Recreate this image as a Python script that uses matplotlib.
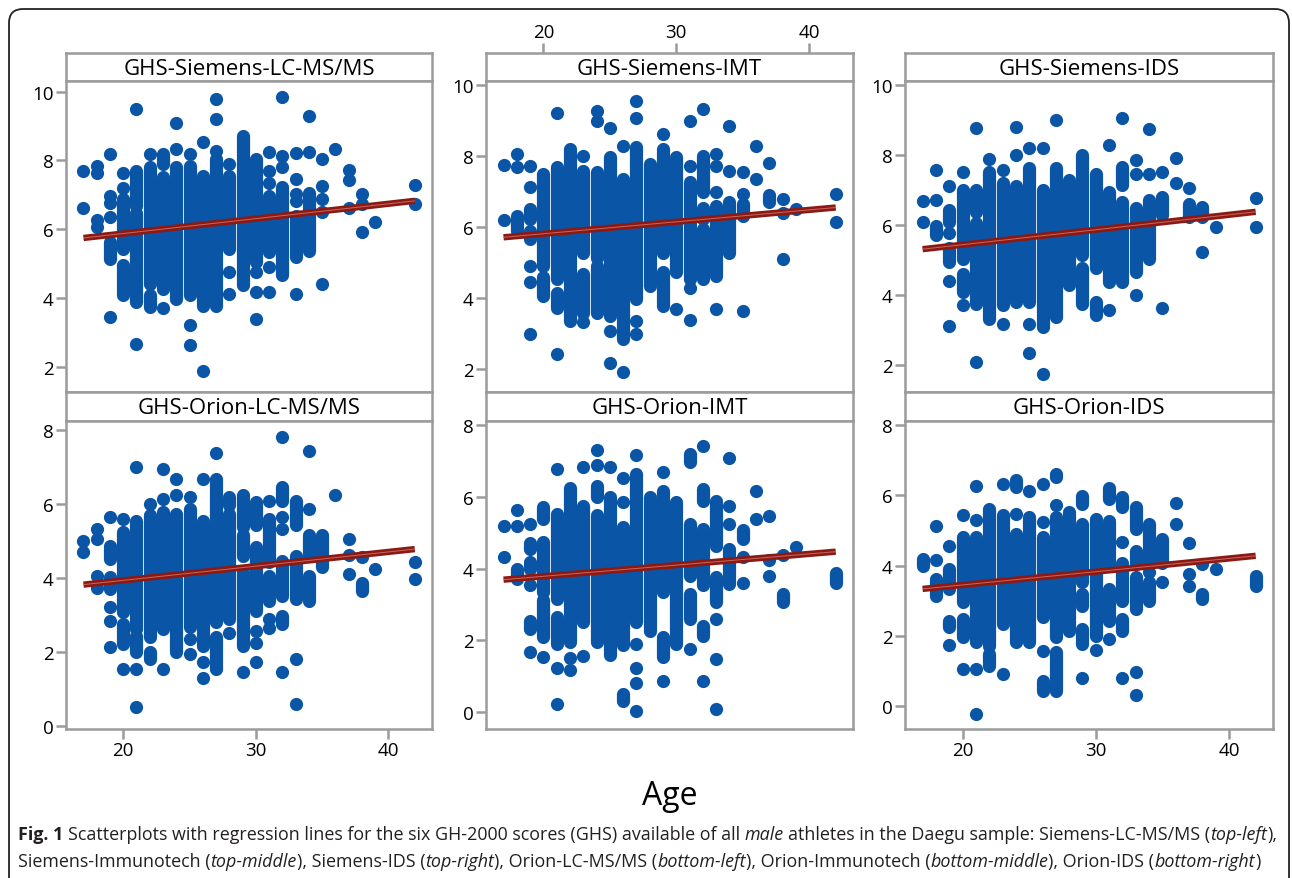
import matplotlib
matplotlib.use("Agg")
import matplotlib.pyplot as plt
import numpy as np
from matplotlib.patches import FancyBboxPatch
from matplotlib.transforms import IdentityTransform

# ---- data: (age, GHS) single points and (age, low, high) dense stacks ----
FIT_AGE = [17, 42]

s_lc_points = [
    (17, 7.69), (17, 6.6), (18, 7.83), (18, 7.62), (18, 6.27), (18, 6.05),
    (19, 8.17), (19, 6.96), (19, 6.75), (19, 6.34), (19, 3.44), (20, 7.62), (20, 7.2),
    (21, 9.48), (21, 2.67), (22, 8.17), (23, 3.7), (24, 9.07), (24, 8.34),
    (25, 8.17), (25, 3.22), (25, 2.62), (26, 8.53), (26, 1.86),
    (27, 9.77), (27, 9.21), (27, 8.27), (28, 7.88), (28, 4.74), (28, 4.11),
    (30, 4.74), (30, 4.18), (30, 3.37), (31, 8.24), (31, 7.69), (31, 7.35), (31, 4.89), (31, 4.18),
    (32, 9.84), (32, 8.12), (32, 7.79), (33, 8.2), (33, 7.45), (33, 7.01), (33, 6.82), (33, 4.11),
    (34, 9.28), (34, 8.24), (35, 8.05), (35, 7.26), (35, 6.87), (35, 6.5), (35, 4.4),
    (36, 8.34), (37, 7.72), (37, 7.43), (37, 6.6), (38, 7.01), (38, 6.72), (38, 5.92),
    (39, 6.19), (42, 7.28), (42, 6.72),
]
s_lc_stacks = [
    (19, 5.13, 5.61), (20, 5.42, 6.87), (20, 4.07, 4.94), (21, 6.68, 7.69), (21, 3.87, 6.48),
    (22, 4.4, 7.79), (22, 3.73, 4.07), (23, 7.88, 8.17), (23, 4.26, 7.5), (24, 3.97, 7.79),
    (25, 4.07, 7.83), (26, 3.77, 7.54), (27, 3.77, 8.03), (28, 5.42, 7.54), (29, 4.36, 8.7),
    (30, 5.03, 8.03), (31, 5.32, 6.96), (32, 4.65, 7.21), (33, 5.18, 6.38), (34, 5.37, 7.06),
]
s_lc_fit = [5.74, 6.82]

s_imt_points = [
    (17, 7.76), (17, 6.21), (18, 8.07), (18, 7.69),
    (19, 7.74), (19, 7.13), (19, 4.92), (19, 4.47), (19, 2.99),
    (21, 9.22), (21, 2.44), (23, 8.02), (23, 3.32), (24, 9.29), (24, 9.01),
    (25, 8.8), (25, 3.08), (25, 2.17), (26, 8.29), (26, 1.91),
    (27, 9.55), (27, 9.08), (27, 3.36), (27, 2.99), (29, 8.64), (30, 3.69),
    (31, 9.01), (31, 7.74), (31, 4.28), (31, 3.38), (32, 9.34),
    (33, 8.07), (33, 7.74), (33, 7.01), (33, 3.69), (34, 8.87), (34, 7.6),
    (35, 7.55), (35, 6.94), (35, 3.65), (36, 8.29), (36, 7.35), (37, 7.81),
    (38, 6.8), (38, 6.4), (38, 5.12), (39, 6.52), (42, 6.94), (42, 6.14),
]
s_imt_stacks = [
    (18, 5.91, 6.33), (19, 6.24, 6.52), (19, 5.67, 5.91), (20, 4.92, 7.51), (20, 4.07, 4.59),
    (21, 4.54, 7.69), (21, 3.74, 4.16), (22, 3.36, 8.21), (23, 5.29, 7.6), (23, 3.6, 4.68),
    (24, 5.15, 7.55), (24, 3.6, 4.92), (25, 3.51, 7.98), (26, 2.85, 7.36), (27, 3.98, 8.26),
    (28, 4.35, 7.79), (29, 5.29, 8.21), (29, 3.79, 4.73), (30, 4.73, 7.98), (31, 4.54, 7.27),
    (32, 6.99, 8.02), (32, 6.24, 6.56), (32, 4.54, 5.95), (33, 4.64, 6.61), (34, 5.29, 6.71),
    (35, 6.33, 6.66), (37, 6.71, 6.91),
]
s_imt_fit = [5.72, 6.56]

s_ids_points = [
    (17, 6.69), (17, 6.1), (18, 7.58), (18, 6.72), (19, 7.12), (19, 5.76), (19, 4.4), (19, 3.1),
    (20, 7.51), (20, 3.7), (21, 8.78), (21, 2.08), (22, 7.89), (23, 7.58), (23, 3.18),
    (24, 8.8), (24, 8.01), (25, 8.2), (25, 3.16), (25, 2.35), (26, 8.2), (26, 1.74),
    (27, 9.01), (31, 8.28), (31, 3.56), (32, 9.08), (33, 7.87), (33, 7.45), (33, 3.99),
    (34, 8.75), (34, 7.45), (35, 7.51), (35, 3.63), (36, 7.93), (36, 7.2), (37, 7.05),
    (38, 5.22), (39, 5.95), (42, 6.77), (42, 5.95),
]
s_ids_stacks = [
    (18, 5.73, 5.98), (19, 6.1, 6.43), (19, 4.95, 5.33), (20, 5.04, 7.0), (20, 4.09, 4.61),
    (21, 6.38, 7.0), (21, 3.75, 6.05), (22, 3.32, 7.53), (23, 3.7, 7.2), (24, 3.8, 7.13),
    (25, 3.8, 7.63), (26, 3.08, 7.0), (27, 3.37, 7.63), (28, 4.28, 7.29), (29, 5.14, 8.01),
    (29, 3.75, 4.76), (30, 4.76, 7.46), (30, 3.42, 3.8), (31, 4.37, 6.96), (32, 7.15, 7.67),
    (32, 4.37, 6.67), (33, 4.66, 6.48), (34, 5.04, 6.72), (35, 6.29, 6.81), (37, 6.24, 6.59),
    (38, 6.24, 6.53),
]
s_ids_fit = [5.31, 6.38]

o_lc_points = [
    (17, 5.0), (17, 4.68), (18, 5.32), (18, 5.05), (18, 4.05), (18, 3.71),
    (19, 5.65), (19, 3.2), (19, 2.82), (19, 2.12), (20, 5.57), (20, 1.53),
    (21, 6.98), (21, 1.53), (21, 0.51), (22, 5.99), (23, 6.92), (23, 6.11), (23, 1.53),
    (24, 6.67), (24, 6.22), (25, 6.17), (25, 2.34), (25, 1.94), (26, 6.67), (26, 1.71), (26, 1.28),
    (27, 7.37), (28, 2.5), (29, 1.46), (30, 2.57), (30, 2.23), (30, 1.71),
    (31, 6.08), (31, 2.88), (31, 2.63), (32, 7.81), (32, 5.63), (32, 5.32), (32, 1.46),
    (33, 1.8), (33, 0.59), (34, 7.43), (34, 5.84), (36, 6.22),
    (37, 5.05), (37, 4.61), (37, 4.1), (38, 4.55), (39, 4.23), (42, 4.41), (42, 3.96),
]
o_lc_stacks = [
    (19, 4.5, 4.86), (19, 3.69, 4.01), (20, 3.06, 5.23), (20, 2.21, 2.75), (21, 2.61, 5.54),
    (21, 1.98, 2.43), (22, 2.39, 5.68), (22, 1.8, 1.98), (23, 2.61, 5.77), (24, 1.98, 5.72),
    (25, 2.66, 5.86), (26, 2.16, 5.54), (27, 2.79, 6.67), (27, 1.53, 2.39), (28, 5.95, 6.17),
    (28, 2.88, 5.72), (29, 5.36, 6.22), (29, 4.59, 5.14), (29, 2.16, 4.14), (30, 5.41, 6.04),
    (30, 3.11, 4.82), (31, 4.41, 5.59), (31, 3.38, 4.05), (32, 6.08, 6.44), (32, 3.51, 4.46),
    (32, 2.75, 2.97), (33, 5.41, 6.08), (33, 3.42, 4.59), (34, 4.59, 5.14), (34, 3.38, 4.05),
    (35, 4.28, 5.14), (38, 3.65, 3.86),
]
o_lc_fit = [3.81, 4.77]

o_imt_points = [
    (17, 5.18), (17, 4.32), (18, 5.64), (18, 5.18), (19, 5.24), (19, 3.53), (19, 1.67),
    (20, 1.53), (21, 6.77), (21, 1.22), (21, 0.23), (22, 1.5), (22, 1.16), (23, 6.82), (23, 1.56),
    (24, 7.29), (24, 6.89), (25, 6.82), (26, 6.52), (26, 5.85),
    (27, 7.16), (27, 1.9), (27, 1.22), (27, 0.82), (27, 0.02), (29, 6.7), (29, 0.88),
    (31, 1.76), (32, 7.42), (32, 0.88), (33, 2.6), (33, 1.48), (33, 0.09),
    (34, 7.08), (34, 5.75), (34, 5.24), (35, 4.32), (35, 3.6), (36, 6.17), (36, 5.38),
    (37, 5.45), (37, 4.24), (37, 3.79), (38, 4.39), (39, 4.59),
]
o_imt_stacks = [
    (18, 3.71, 3.99), (19, 4.55, 4.71), (19, 3.99, 4.18), (19, 2.32, 2.55), (20, 5.38, 5.71),
    (20, 3.34, 4.73), (20, 2.09, 3.11), (21, 3.16, 5.53), (21, 1.9, 2.64), (22, 1.95, 6.24),
    (23, 2.51, 5.75), (24, 5.99, 6.31), (24, 1.95, 5.48), (25, 1.58, 5.99), (26, 1.86, 5.15),
    (26, 0.32, 0.51), (27, 2.51, 6.64), (28, 2.27, 5.99), (29, 3.34, 6.17), (29, 1.53, 2.09),
    (30, 1.9, 5.85), (31, 6.96, 7.19), (31, 3.8, 5.24), (31, 2.6, 3.29), (32, 5.89, 6.22),
    (32, 3.53, 5.1), (32, 2.13, 2.41), (33, 4.64, 5.89), (33, 3.06, 3.76), (34, 3.57, 4.55),
    (35, 4.83, 5.06), (38, 3.06, 3.28), (42, 3.59, 3.87),
]
o_imt_fit = [3.69, 4.47]

o_ids_points = [
    (18, 5.12), (18, 4.17), (19, 4.57), (19, 1.74), (20, 5.44), (20, 1.06),
    (21, 6.25), (21, 5.31), (21, 1.06), (21, -0.22), (23, 6.32), (23, 0.92), (24, 5.47),
    (25, 6.13), (26, 6.32), (26, 5.23), (26, 1.58), (27, 5.73), (29, 0.8), (30, 1.61),
    (31, 1.93), (32, 4.66), (32, 0.8), (33, 0.99), (33, 0.32), (34, 3.81), (35, 3.55),
    (36, 5.78), (36, 5.18), (37, 4.64), (37, 3.76), (37, 3.43), (38, 4.05), (39, 3.91),
]
o_ids_stacks = [
    (17, 4.0, 4.19), (18, 3.15, 3.62), (19, 3.34, 3.91), (19, 2.25, 2.44), (20, 2.96, 4.81),
    (20, 1.96, 2.48), (21, 1.82, 4.81), (22, 1.73, 5.61), (22, 1.16, 1.49), (23, 2.34, 5.44),
    (24, 6.23, 6.42), (24, 1.82, 4.9), (25, 1.82, 5.37), (26, 2.53, 4.81), (26, 0.45, 0.73),
    (27, 6.51, 6.61), (27, 1.96, 5.37), (27, 0.45, 1.54), (28, 2.15, 5.52), (29, 5.75, 5.99),
    (29, 3.53, 5.18), (29, 2.86, 3.19), (29, 1.77, 2.2), (30, 2.0, 5.33), (31, 5.9, 6.2),
    (31, 4.0, 5.28), (31, 2.44, 3.34), (32, 5.66, 5.94), (32, 3.0, 4.09), (32, 2.15, 2.48),
    (33, 5.04, 5.66), (33, 4.05, 4.43), (33, 2.77, 3.67), (34, 4.09, 5.18), (34, 3.0, 3.53),
    (35, 4.09, 4.76), (38, 3.05, 3.19), (42, 3.43, 3.72),
]
o_ids_fit = [3.34, 4.28]

TITLES = ["GHS-Siemens-LC-MS/MS", "GHS-Siemens-IMT", "GHS-Siemens-IDS",
          "GHS-Orion-LC-MS/MS", "GHS-Orion-IMT", "GHS-Orion-IDS"]
X_TICKS = [20, 30, 40]
Y_TICKS_TOP = [2, 4, 6, 8, 10]
Y_TICKS_BOTTOM = [0, 2, 4, 6, 8]

CAPTION_1 = [("Fig. 1", "b"),
             (" Scatterplots with regression lines for the six GH-2000 scores (GHS) available of all ", "n"),
             ("male", "i"), (" athletes in the Daegu sample: Siemens-LC-MS/MS (", "n"),
             ("top-left", "i"), ("),", "n")]
CAPTION_2 = [("Siemens-Immunotech (", "n"), ("top-middle", "i"), ("), Siemens-IDS (", "n"),
             ("top-right", "i"), ("), Orion-LC-MS/MS (", "n"), ("bottom-left", "i"),
             ("), Orion-Immunotech (", "n"), ("bottom-middle", "i"), ("), Orion-IDS (", "n"),
             ("bottom-right", "i"), (")", "n")]

# ---- style / layout ----
W, H = 1292, 879
BLUE = "#0a55a5"
GRAY = "#9b9b9b"
FIT_DARK = "#8c1a14"
FIT_LIGHT = "#c9665f"
FONT = ["Open Sans", "DejaVu Sans"]
CAP_FONT = ["Open Sans", "DejaVu Sans"]
XLIM = (15.68, 43.3)
COLS = [(66, 432), (486, 853), (905, 1273)]
ROWS = [(54, 81.5, 393), (393, 422, 730)]  # strip top, plot top, plot bottom
YLIMS = [(1.26, 10.32), (1.36, 10.14), (1.22, 10.14),
         (-0.09, 8.23), (-0.47, 8.11), (-0.64, 8.11)]
MARKER_PT = 9.5

plt.rcParams["font.family"] = FONT

fig = plt.figure(figsize=(W / 100, H / 100), dpi=100)


def px_axes(x0, y0, x1, y1):
    return fig.add_axes([x0 / W, 1 - y1 / H, (x1 - x0) / W, (y1 - y0) / H])


def style_frame(ax):
    for sp in ax.spines.values():
        sp.set_color(GRAY)
        sp.set_linewidth(1.8)
    ax.tick_params(direction="out", length=7, width=1.8, color=GRAY,
                   labelsize=13.5, labelcolor="black", pad=2)


panels = [
    (s_lc_points, s_lc_stacks, s_lc_fit), (s_imt_points, s_imt_stacks, s_imt_fit),
    (s_ids_points, s_ids_stacks, s_ids_fit), (o_lc_points, o_lc_stacks, o_lc_fit),
    (o_imt_points, o_imt_stacks, o_imt_fit), (o_ids_points, o_ids_stacks, o_ids_fit),
]

for i, (points, stacks, fit) in enumerate(panels):
    r, c = divmod(i, 3)
    x0, x1 = COLS[c]
    st, pt, pb = ROWS[r]

    strip = px_axes(x0, st, x1, pt)
    style_frame(strip)
    strip.set_xlim(XLIM)
    strip.set_yticks([])
    strip.text(0.5, 0.45, TITLES[i], transform=strip.transAxes, ha="center", va="center",
               fontsize=16)
    if r == 0 and c == 1:
        strip.xaxis.set_ticks_position("top")
        strip.set_xticks(X_TICKS)
    else:
        strip.set_xticks([])

    ax = px_axes(x0, pt, x1, pb)
    style_frame(ax)
    pa = np.array(points, dtype=float)
    sa = np.array(stacks, dtype=float)
    ax.vlines(sa[:, 0], sa[:, 1], sa[:, 2], colors=BLUE, linewidth=MARKER_PT,
              capstyle="round", zorder=2)
    ax.scatter(pa[:, 0], pa[:, 1], s=MARKER_PT ** 2, color=BLUE, linewidths=0, zorder=2)
    ax.plot(FIT_AGE, fit, color=FIT_DARK, lw=4.6, solid_capstyle="butt", zorder=3)
    ax.plot(FIT_AGE, fit, color=FIT_LIGHT, lw=0.7, solid_capstyle="butt", zorder=4)

    ax.set_xlim(XLIM)
    ax.set_ylim(YLIMS[i])
    ax.set_yticks(Y_TICKS_TOP if r == 0 else Y_TICKS_BOTTOM)
    if r == 1 and c != 1:
        ax.set_xticks(X_TICKS)
    else:
        ax.set_xticks([])

fig.text(670 / W, 1 - 805 / H, "Age", ha="center", va="baseline", fontsize=23)

# outer rounded frame
frame = FancyBboxPatch((9, -30), 1280, H - 10 + 30, boxstyle="round,pad=0,rounding_size=14",
                       transform=IdentityTransform(), fill=False, edgecolor="#222222",
                       linewidth=1.3, clip_on=False)
fig.patches.append(frame)

# ---- caption with mixed bold / italic runs ----
renderer = fig.canvas.get_renderer()


def run_kwargs(style, size):
    return dict(fontsize=size, family=CAP_FONT, color="#231f20",
                fontweight="bold" if style == "b" else "normal",
                fontstyle="italic" if style == "i" else "normal")


def space_width(kw):
    a = fig.text(0, 0, "x x", **kw)
    b = fig.text(0, 0, "xx", **kw)
    w = a.get_window_extent(renderer).width - b.get_window_extent(renderer).width
    a.remove()
    b.remove()
    return w


def draw_runs(runs, x_px, y_px, size):
    x = x_px
    arts = []
    for txt, style in runs:
        kw = run_kwargs(style, size)
        core = txt.strip(" ")
        lead = len(txt) - len(txt.lstrip(" "))
        trail = len(txt) - len(txt.rstrip(" "))
        sp = space_width(kw)
        x += lead * sp
        t = fig.text(x / W, 1 - y_px / H, core, ha="left", va="baseline", **kw)
        x += t.get_window_extent(renderer).width + trail * sp
        arts.append(t)
    return x - x_px, arts


width, arts = draw_runs(CAPTION_1, 18, 840, 12)
for a in arts:
    a.remove()
cap_size = 12 * (1272 - 18) / width
draw_runs(CAPTION_1, 18, 840, cap_size)
draw_runs(CAPTION_2, 18, 867, cap_size)

fig.savefig("out.png", dpi=100)
